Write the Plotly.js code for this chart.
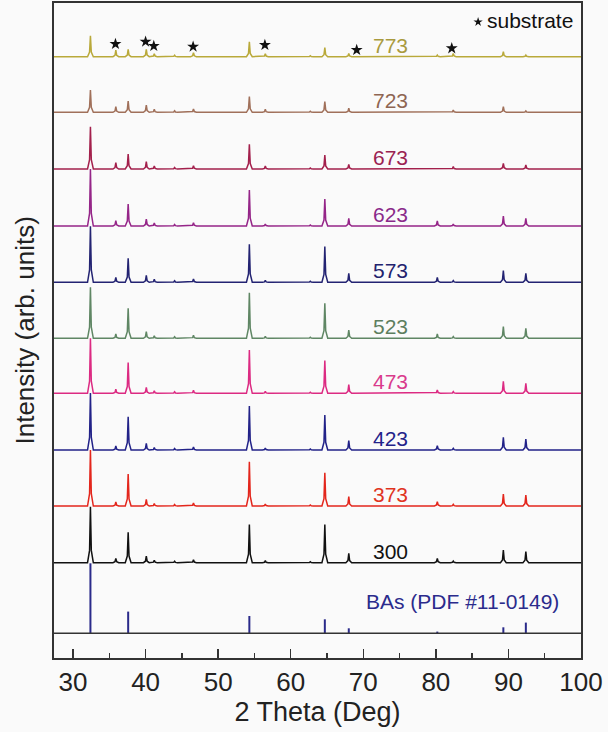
<!DOCTYPE html>
<html>
<head>
<meta charset="utf-8">
<script src="https://cdn.plot.ly/plotly-3.0.1.min.js"></script>
<style>html,body{margin:0;padding:0;background:#fafafa;}#chart{width:608px;height:732px;}</style>
</head>
<body>
<div id="chart"></div>
<script>
// 2θ positions of the observed peaks (deg)
const peakPositions = [32.4, 35.9, 37.6, 40.1, 41.2, 44.0, 46.6, 54.3, 56.5, 62.7, 64.7, 68.0, 80.2, 82.4, 89.3, 92.4];

// sample labels (annealing temperature, K), top to bottom
const sampleLabels = ['773', '723', '673', '623', '573', '523', '473', '423', '373', '300'];

// vertical offsets of each stacked pattern (arb. units)
const sampleOffsets = [601.3, 545.7, 489, 432, 375.7, 319.7, 264.7, 208, 152, 95.3];

// peak intensities (arb. units) for each sample, in the order of peakPositions
const h773 = [21, 6.5, 7.3, 7.3, 3, 1.5, 4, 15, 3, 1, 9, 3.3, 1.7, 3.3, 5, 1.7];
const h723 = [22.3, 5.7, 11.3, 7.3, 3, 1.5, 3.3, 15.7, 3, 1, 10.7, 4, 0.7, 2.3, 5.7, 1.3];
const h673 = [42.3, 6.3, 15, 7.3, 3, 1.5, 3.3, 24.7, 3, 1, 14, 4.7, 0.7, 2.3, 5.7, 4];
const h623 = [57, 5.3, 22, 7, 3, 1.5, 3.3, 36, 2, 1, 27, 7.7, 5, 2, 10, 7.7];
const h573 = [56, 5, 24, 7, 3, 1.5, 3.3, 38, 2, 1, 35.7, 9, 5, 1.7, 11.7, 9];
const h523 = [51, 4.3, 30, 6.7, 2.5, 1.5, 3, 45.6, 2, 1, 35, 8.3, 4.3, 1.7, 11.7, 10];
const h473 = [55, 4, 30.7, 6, 2.5, 1.5, 3, 43.3, 2, 1, 32.7, 8.7, 3.3, 1.7, 12, 10];
const h423 = [57, 4, 33.3, 6.7, 2.5, 1.5, 3, 44, 2, 1, 35, 9.3, 4.3, 1.7, 12.7, 11];
const h373 = [56, 4, 32, 6.7, 2.5, 1.5, 3, 44.3, 2, 1, 33.3, 9.3, 4.3, 1.7, 12, 11];
const h300 = [56, 4.3, 30.3, 6.7, 2.5, 1.5, 3, 38.3, 2, 1, 38.3, 9.3, 4.3, 1.7, 12.7, 11];
const sampleHeights = [h773, h723, h673, h623, h573, h523, h473, h423, h373, h300];

// reference pattern BAs (PDF #11-0149)
const refPositions = [32.4, 37.6, 54.3, 64.7, 68.0, 80.2, 89.3, 92.4];
const refHeights = [70, 21.7, 17.3, 14, 5, 1.7, 6, 10.7];
const refOffset = 24.7;

// substrate peak markers
const starX = [35.85, 40.0, 41.13, 46.55, 56.44, 69.09, 82.19];
const starY = [614, 616.3, 612, 611.3, 613, 608, 609.7];

const xRange = [27.38, 100];
const yRange = [0, 655];

const colors = ['#b9a93a', '#a0705a', '#a3204c', '#952588', '#232372', '#5f8664', '#dc2a82', '#222288', '#e3261c', '#111111'];
const labelColors = ['#a99a3e', '#8e6552', '#9a2352', '#8a2a8a', '#22226e', '#5d7e5f', '#d93a8c', '#23238a', '#e0341e', '#111111'];

function profile(base, heights) {
  const x = [xRange[0]], y = [base];
  peakPositions.forEach((p, i) => {
    const h = heights[i];
    x.push(p - 0.4, p - 0.12, p, p + 0.12, p + 0.4);
    y.push(base, base + 0.22 * h, base + h, base + 0.22 * h, base);
  });
  x.push(xRange[1]); y.push(base);
  return {x, y};
}

const traces = [];
sampleLabels.forEach((lab, k) => {
  const pr = profile(sampleOffsets[k], sampleHeights[k]);
  traces.push({x: pr.x, y: pr.y, type: 'scatter', mode: 'lines', name: lab,
    line: {color: colors[k], width: 1.5}, hoverinfo: 'skip'});
});

// reference sticks
const sx = [], sy = [];
refPositions.forEach((p, i) => { sx.push(p, p, null); sy.push(refOffset, refOffset + refHeights[i], null); });
traces.push({x: sx, y: sy, type: 'scatter', mode: 'lines', name: 'BAs',
  line: {color: '#2a2a8a', width: 2}, hoverinfo: 'skip'});
traces.push({x: xRange, y: [refOffset, refOffset], type: 'scatter', mode: 'lines', name: 'ref baseline',
  line: {color: '#333333', width: 1.5}, hoverinfo: 'skip'});

// substrate stars
traces.push({x: starX, y: starY, type: 'scatter', mode: 'markers', name: 'substrate',
  marker: {symbol: 'star', size: 9, color: '#111111'}, hoverinfo: 'skip'});
traces.push({x: [85.82], y: [636], type: 'scatter', mode: 'markers', name: 'legend star',
  marker: {symbol: 'star', size: 7, color: '#111111'}, hoverinfo: 'skip'});

const FONT = 'Arial, "Liberation Sans", Helvetica, sans-serif';
const annotations = sampleLabels.map((lab, k) => ({
  x: 73.8, y: sampleOffsets[k] + 11.7, xref: 'x', yref: 'y', text: lab, showarrow: false,
  xanchor: 'center', yanchor: 'middle', font: {family: FONT, size: 21, color: labelColors[k]}
}));
annotations.push({x: 83.7, y: 56.3, xref: 'x', yref: 'y', text: 'BAs (PDF #11-0149)', showarrow: false,
  xanchor: 'center', yanchor: 'middle', font: {family: FONT, size: 21, color: '#2b2b8c'}});
annotations.push({x: 86.75, y: 638, xref: 'x', yref: 'y', text: 'substrate', showarrow: false,
  xanchor: 'left', yanchor: 'middle', font: {family: FONT, size: 21, color: '#111111'}});
annotations.push({x: 0, y: 0.5, xref: 'paper', yref: 'paper', xshift: -30, text: 'Intensity (arb. units)',
  showarrow: false, textangle: -90, xanchor: 'center', yanchor: 'middle',
  font: {family: FONT, size: 26, color: '#222'}});

const layout = {
  width: 608, height: 732,
  margin: {l: 54, r: 27, t: 3, b: 74},
  paper_bgcolor: '#fafafa', plot_bgcolor: '#fafafa',
  showlegend: false,
  font: {family: FONT, color: '#222'},
  xaxis: {
    range: xRange, showgrid: false, zeroline: false,
    showline: true, mirror: true, linecolor: '#333', linewidth: 1.6,
    ticks: 'inside', ticklen: 9, tickwidth: 1.5, tickcolor: '#333',
    tick0: 0, dtick: 10,
    minor: {dtick: 5, ticks: 'inside', ticklen: 5, tickwidth: 1.5, tickcolor: '#333'},
    tickfont: {family: FONT, size: 26, color: '#222'},
    title: {text: '2 Theta (Deg)', font: {family: FONT, size: 27, color: '#222'}, standoff: 1}
  },
  yaxis: {
    range: yRange, showgrid: false, zeroline: false,
    showline: true, mirror: true, linecolor: '#333', linewidth: 1.6,
    ticks: '', showticklabels: false
  },
  annotations: annotations
};

Plotly.newPlot('chart', traces, layout, {displayModeBar: false, staticPlot: true});
</script>
</body>
</html>
